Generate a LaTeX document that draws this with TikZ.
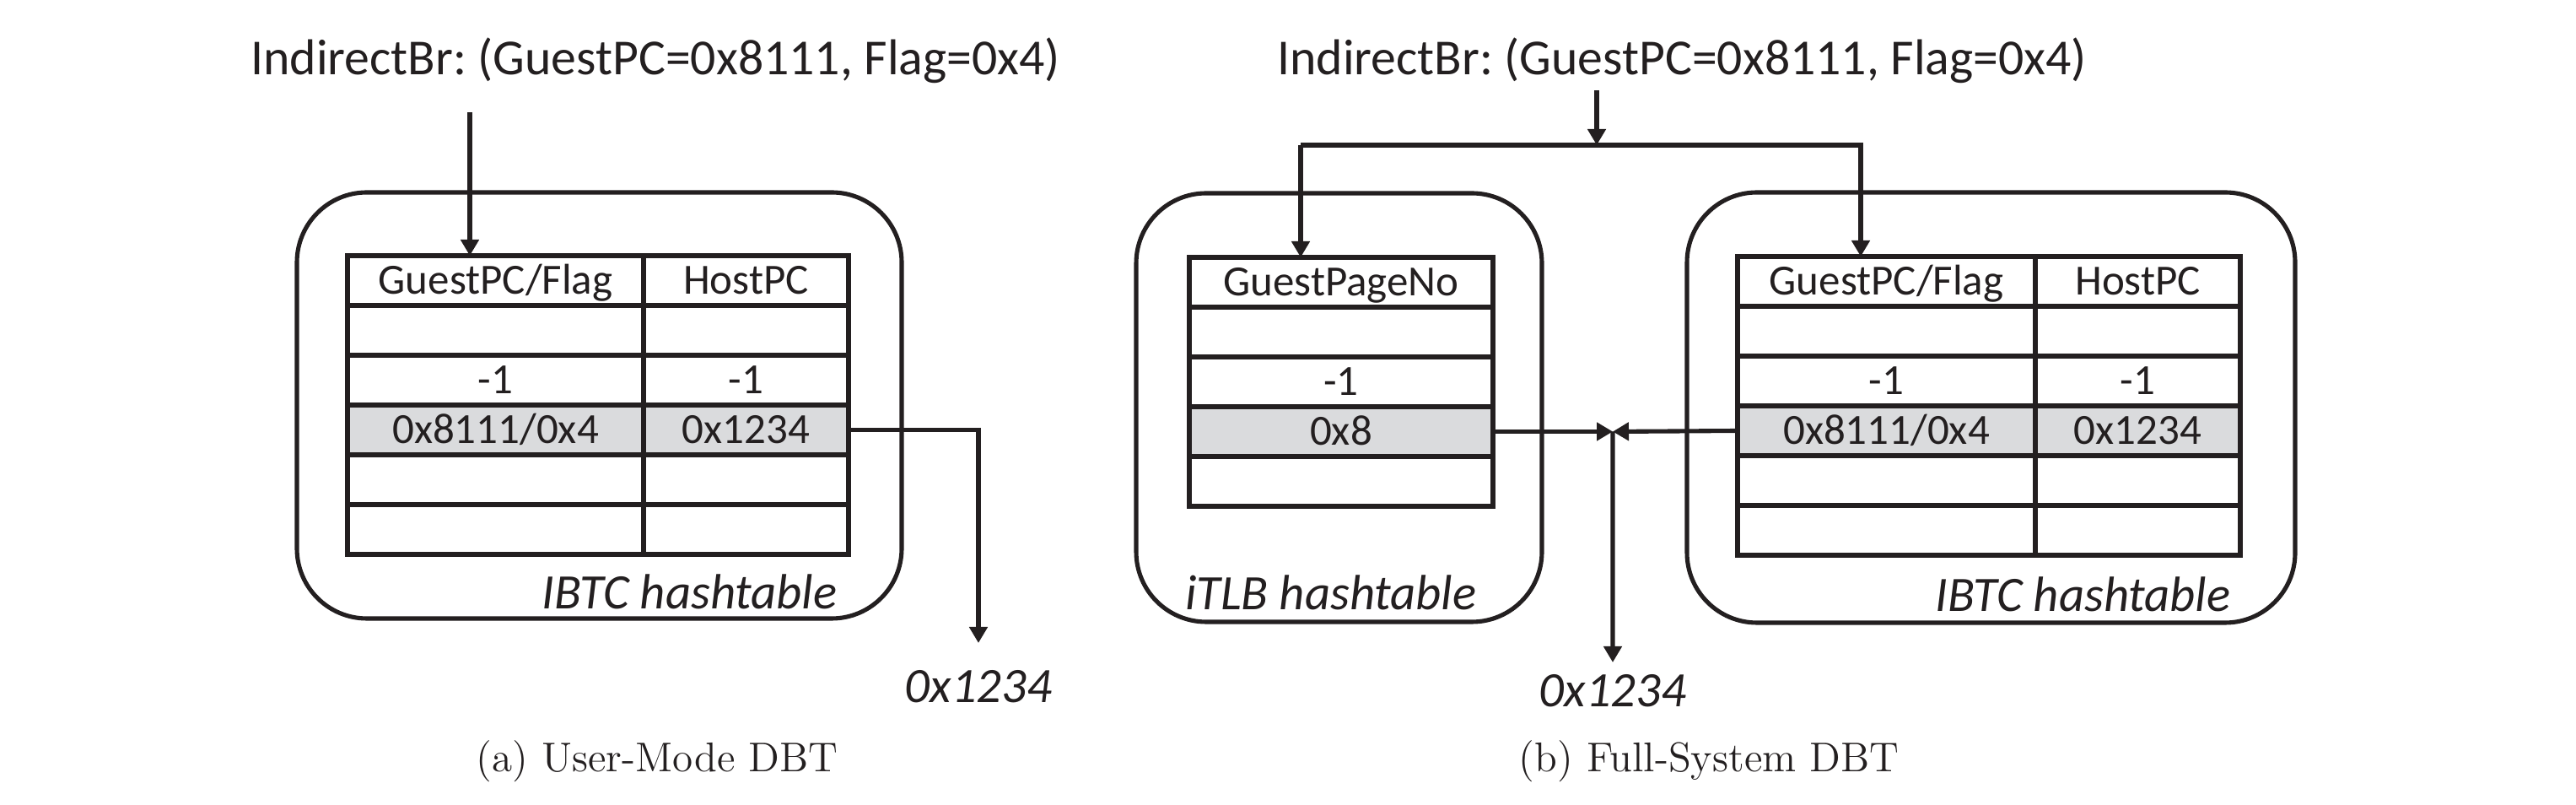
\documentclass[tikz,border=0pt]{standalone}
\usepackage{fontspec}
\usepackage{tikz}
\usetikzlibrary{arrows.meta,positioning}
\newfontfamily\calibri{Carlito}
\definecolor{ink}{RGB}{35,31,32}
\definecolor{cellgray}{RGB}{218,219,221}
\frenchspacing

\begin{document}
\begin{tikzpicture}[>={Triangle[length=0.19cm,width=0.21cm]},line width=1.45pt,color=ink]

  \tikzstyle{cell}=[draw, rectangle, minimum height=0.59cm, inner sep=0pt,
    outer sep=0pt, text height=11.6pt, text depth=2.3pt,
    font=\calibri\fontsize{14.5}{17}\selectfont];
  \tikzstyle{K}=[cell, minimum width=3.51cm];
  \tikzstyle{V}=[cell, minimum width=2.43cm];
  \tikzstyle{P}=[cell, minimum width=3.60cm];
  \tikzstyle{hbox}=[draw, rectangle, rounded corners=0.83cm, inner sep=0pt, outer sep=0pt];
  \tikzstyle{head}=[font=\calibri\fontsize{17}{20}\selectfont];
  \tikzstyle{tag}=[inner sep=0pt, font=\calibri\itshape\fontsize{16.7}{20}\selectfont];
  \tikzstyle{subcap}=[font=\fontsize{14}{16}\selectfont];

  \useasboundingbox (0,0) rectangle (30.54,-9.54);

  %% hashtable boxes
  \node [hbox, minimum width=7.17cm, minimum height=5.05cm] (boxA) at (7.105,-4.805) {};
  \node [hbox, minimum width=4.81cm, minimum height=5.08cm] (boxT) at (15.875,-4.83) {};
  \node [hbox, minimum width=7.21cm, minimum height=5.10cm] (boxB) at (23.605,-4.83) {};

  \node [head] (brA) at (7.77,-0.72) {IndirectBr: (GuestPC=0x8111, Flag=0x4)};
  \node [head] (brB) at (19.94,-0.72) {IndirectBr: (GuestPC=0x8111, Flag=0x4)};

  %% (a) IBTC
  \node [K, anchor=north west] (kA0) at (4.12,-3.03) {GuestPC/Flag};
  \node [V, right=0pt of kA0] (vA0) {HostPC};
  \node [K, below=0pt of kA0] (kA1) {};
  \node [V, below=0pt of vA0] (vA1) {};
  \node [K, below=0pt of kA1] (kA2) {-1};
  \node [V, below=0pt of vA1] (vA2) {-1};
  \node [K, below=0pt of kA2, fill=cellgray] (kA3) {0x8111/0x4};
  \node [V, below=0pt of vA2, fill=cellgray] (vA3) {0x1234};
  \node [K, below=0pt of kA3] (kA4) {};
  \node [V, below=0pt of vA3] (vA4) {};
  \node [K, below=0pt of kA4] (kA5) {};
  \node [V, below=0pt of vA4] (vA5) {};

  %% (b) iTLB
  \node [P, anchor=north west] (pT0) at (14.10,-3.05) {GuestPageNo};
  \node [P, below=0pt of pT0] (pT1) {};
  \node [P, below=0pt of pT1] (pT2) {-1};
  \node [P, below=0pt of pT2, fill=cellgray] (pT3) {0x8};
  \node [P, below=0pt of pT3] (pT4) {};

  %% (b) IBTC
  \node [K, anchor=north west, minimum width=3.53cm] (kB0) at (20.60,-3.04) {GuestPC/Flag};
  \node [V, right=0pt of kB0] (vB0) {HostPC};
  \node [K, below=0pt of kB0, minimum width=3.53cm] (kB1) {};
  \node [V, below=0pt of vB0] (vB1) {};
  \node [K, below=0pt of kB1, minimum width=3.53cm] (kB2) {-1};
  \node [V, below=0pt of vB1] (vB2) {-1};
  \node [K, below=0pt of kB2, minimum width=3.53cm, fill=cellgray] (kB3) {0x8111/0x4};
  \node [V, below=0pt of vB2, fill=cellgray] (vB3) {0x1234};
  \node [K, below=0pt of kB3, minimum width=3.53cm] (kB4) {};
  \node [V, below=0pt of vB3] (vB4) {};
  \node [K, below=0pt of kB4, minimum width=3.53cm] (kB5) {};
  \node [V, below=0pt of vB4] (vB5) {};

  \node [tag, anchor=base east] (tA) at ([xshift=-0.74cm,yshift=0.11cm]boxA.south east) {IBTC hashtable};
  \node [tag, anchor=base east] (tT) at ([xshift=-0.75cm,yshift=0.14cm]boxT.south east) {iTLB hashtable};
  \node [tag, anchor=base east] (tB) at ([xshift=-0.74cm,yshift=0.13cm]boxB.south east) {IBTC hashtable};

  \node [tag, anchor=north] (outA) at (11.60,-7.92) {0x1234};
  \node [tag, anchor=north] (outB) at (19.12,-7.97) {0x1234};

  %% arrows
  \coordinate (inA) at (5.57,-1.33);
  \draw [->] (inA) -- (inA |- kA0.north);
  \draw [->] (vA3.east) -| ([yshift=0.30cm]outA.north);

  \coordinate (inB) at (18.93,-1.07);
  \coordinate (cT) at (15.42,-1.72);
  \coordinate (cB) at (22.06,-1.72);
  \draw [->] (inB) -- (inB |- cT);
  \draw [->] (cT) -- (cT |- pT0.north);
  \draw [->] (cT) -- (cB) -- (cB |- kB0.north);

  \coordinate [right=1.42cm of pT3.east] (J);
  \draw [->] (pT3.east) -- (J);
  \draw [->] (kB3.west) -- (J);
  \draw [->] (J) -- ([yshift=0.12cm]outB.north);

  \node [subcap] (capA) at (7.79,-9.02) {(a) User-Mode DBT};
  \node [subcap] (capB) at (20.26,-9.02) {(b) Full-System DBT};

\end{tikzpicture}
\end{document}
